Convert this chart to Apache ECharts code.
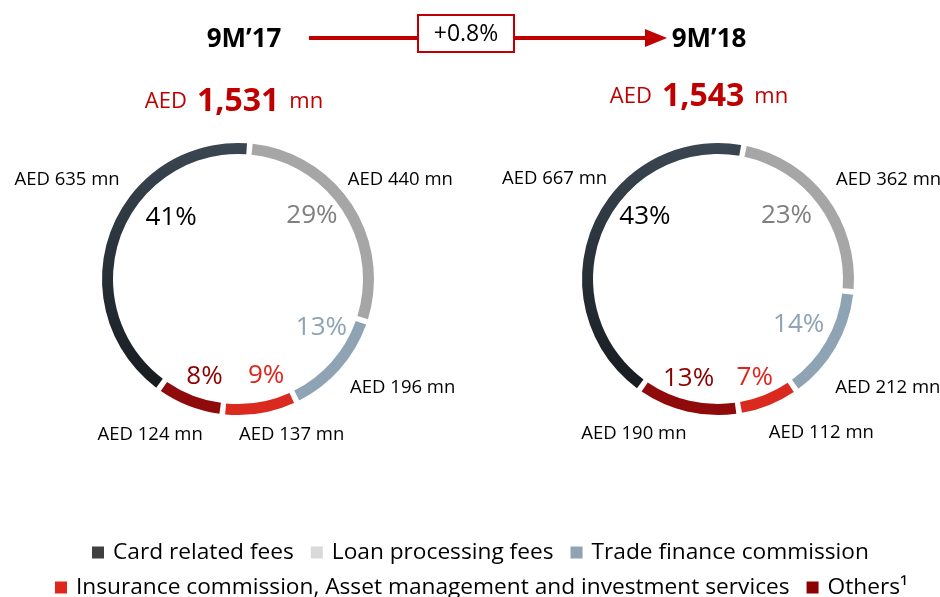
<!DOCTYPE html>
<html>
<head>
<meta charset="utf-8">
<script src="https://cdn.jsdelivr.net/npm/echarts@6/dist/echarts.min.js"></script>
<style>
  html, body { margin: 0; padding: 0; background: #fff; }
  #main { width: 940px; height: 597px; }
</style>
</head>
<body>
<div id="main"></div>
<script>
// categories (legend order)
var categories = [
  "Card related fees",
  "Loan processing fees",
  "Trade finance commission",
  "Insurance commission, Asset management and investment services",
  "Others¹"
];
// AED mn, same order as categories
var values17 = [635, 440, 196, 137, 124];
var values18 = [667, 362, 212, 112, 190];
// shares as printed on the slide
var pct17 = [41, 29, 13, 9, 8];
var pct18 = [43, 23, 14, 7, 13];
var periods = ["9M’17", "9M’18"];
var totals = ["1,531", "1,543"];
var change = "+0.8%";

// ring draws clockwise from the top starting with loan fees
var ringOrder = [1, 2, 3, 4, 0];

var FONT = "'Open Sans', 'Noto Sans', sans-serif";
var RED = "#c00000";

var ringColors = [
  { type: "linear", x: 0, y: 0, x2: 0, y2: 1,
    colorStops: [{ offset: 0, color: "#3a4651" }, { offset: 1, color: "#171c21" }] },
  "#a6a6a6", "#8ea3b3", "#da2a1f", "#8f0a0a"
];
var legendColors = ["#404040", "#d9d9d9", "#8ea3b3", "#e0261c", "#8b0000"];
var pctColors = ["#000000", "#7f7f7f", "#8ea3b3", "#e0261c", "#8b0000"];

// label nudges (category order)
var pctOff17 = [[25, -27], [-8, -10], [10, -16], [12, 0], [2, 6]];
var pctOff18 = [[17, -24], [-10, -5], [-4, -4], [0, 8], [-7, 4]];
var amtOff17 = [[10, -32], [1, 7], [20, -19], [22, -35], [-18, -24]];
var amtOff18 = [[14, -24], [16, 16], [3, 12], [31, -25], [-40, -33]];

function makeRing(center, startAngle, values, pcts, pctOff, amtOff) {
  var ring = [], pctData = [], amtData = [];
  ringOrder.forEach(function (i) {
    ring.push({ name: categories[i], value: values[i], itemStyle: { color: ringColors[i] } });
    pctData.push({
      name: categories[i], value: values[i],
      label: { formatter: pcts[i] + "%", color: pctColors[i], offset: pctOff[i] }
    });
    amtData.push({
      name: categories[i], value: values[i],
      label: { formatter: "AED " + values[i] + " mn", offset: amtOff[i] }
    });
  });
  var hidden = { color: "rgba(0,0,0,0)" };
  return [
    {
      type: "pie", center: center, radius: [125, 136], startAngle: startAngle,
      padAngle: 2.4, silent: true, label: { show: false }, labelLine: { show: false },
      data: ring
    },
    {
      type: "pie", center: center, radius: [0, 190], startAngle: startAngle,
      silent: true, itemStyle: hidden, labelLine: { show: false },
      label: { position: "inside", fontFamily: FONT, fontSize: 26 },
      data: pctData
    },
    {
      type: "pie", center: center, radius: [0, 380], startAngle: startAngle,
      silent: true, itemStyle: hidden, labelLine: { show: false },
      label: { position: "inside", fontFamily: FONT, fontSize: 18.5, color: "#000" },
      data: amtData
    }
  ];
}

function legendItems(idx) {
  return idx.map(function (i) {
    return { name: categories[i], itemStyle: { color: legendColors[i] } };
  });
}

var legendBase = {
  icon: "rect", itemWidth: 12, itemHeight: 12, itemGap: 17,
  selectedMode: false,
  textStyle: { fontFamily: FONT, fontSize: 22.7, color: "#000", padding: [0, 0, 0, 4] }
};

function totalText(x, y, t) {
  return {
    type: "text", x: x, y: y,
    style: {
      text: "{a|AED}{b|" + t + "}{a|mn}",
      align: "center", verticalAlign: "middle",
      rich: {
        a: { fontFamily: FONT, fontSize: 22, fill: RED, color: RED },
        b: { fontFamily: FONT, fontSize: 32, fontWeight: "bold", fill: RED, color: RED, padding: [0, 10] }
      }
    }
  };
}

var myChart = echarts.init(document.getElementById("main"));
myChart.setOption({
  animation: false,
  legend: [
    Object.assign({}, legendBase, { left: 87, top: 536, data: legendItems([0, 1, 2]) }),
    Object.assign({}, legendBase, { left: 50, top: 571, data: legendItems([3, 4]) })
  ],
  graphic: [
    { type: "text", x: 244, y: 40,
      style: { text: periods[0], align: "center", verticalAlign: "middle",
        font: "bold 26px " + FONT, fill: "#000" } },
    { type: "text", x: 709, y: 40,
      style: { text: periods[1], align: "center", verticalAlign: "middle",
        font: "bold 26px " + FONT, fill: "#000" } },
    { type: "line", shape: { x1: 309, y1: 38, x2: 418, y2: 38 },
      style: { stroke: RED, lineWidth: 4 } },
    { type: "line", shape: { x1: 514, y1: 38, x2: 648, y2: 38 },
      style: { stroke: RED, lineWidth: 4 } },
    { type: "polygon", shape: { points: [[645, 29], [667, 38], [645, 47]] },
      style: { fill: RED } },
    { type: "rect", shape: { x: 418, y: 15, width: 96, height: 37 },
      style: { fill: "#fff", stroke: RED, lineWidth: 2 } },
    { type: "text", x: 466, y: 34,
      style: { text: change, align: "center", verticalAlign: "middle",
        font: "23px " + FONT, fill: "#000" } },
    totalText(234, 102, totals[0]),
    totalText(699, 97, totals[1])
  ],
  series: [].concat(
    makeRing([238, 279], 85, values17, pct17, pctOff17, amtOff17),
    makeRing([718, 279], 79, values18, pct18, pctOff18, amtOff18)
  )
});
</script>
</body>
</html>
